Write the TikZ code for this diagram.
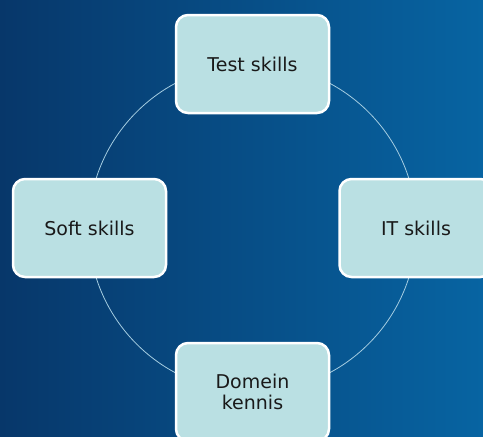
\documentclass[tikz,border=0pt]{standalone}
\usepackage{fontspec}
\setmainfont{DejaVu Sans}
\usetikzlibrary{positioning}

\definecolor{bgleft}{RGB}{7,55,106}
\definecolor{bgright}{RGB}{7,100,162}
\definecolor{boxfill}{RGB}{186,224,227}
\definecolor{ringcol}{RGB}{165,205,225}

\tikzset{
  skillbox/.style={draw=white,line width=2.5pt,fill=boxfill,rounded corners=12pt,
    minimum width=153pt,minimum height=98pt,align=center,
    font=\fontsize{19}{21}\selectfont,text=black!90},
  ring/.style={draw=ringcol,line width=0.8pt}
}

\begin{document}
\begin{tikzpicture}[x=1pt,y=-1pt,line join=round]
\useasboundingbox (0,0) rectangle (483,437);
\shade [left color=bgleft,right color=bgright] (0,0) rectangle (483,437);
%\draw [red] (252.5,228) circle (2pt);
\coordinate (center) at (252.5,228);
\draw [ring] (center) circle (164);
\node [skillbox] (test) at (252.5,64) {Test skills};
\node [skillbox] (soft) at (89.5,228) {Soft skills};
\node [skillbox] (it) at (416,228) {IT skills};
\node [skillbox] (domein) at (252.5,392) {Domein\\kennis};
\end{tikzpicture}
\end{document}
